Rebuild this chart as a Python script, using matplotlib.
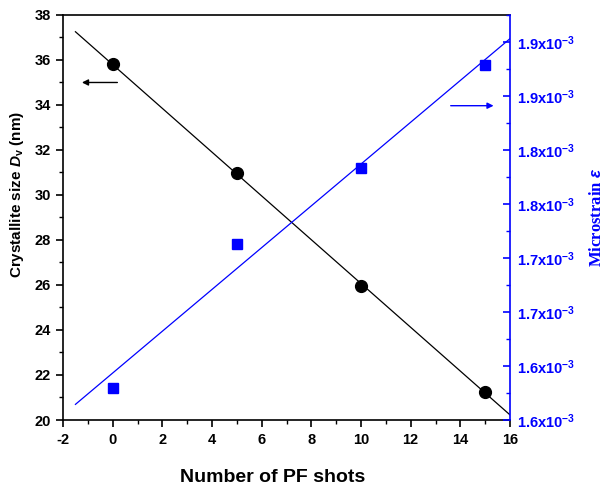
"""
Tamano de cristalito y microdeformacion en funcion del numero de disparos PF
"""
import numpy as np
import matplotlib
matplotlib.use("Agg")
import matplotlib.pyplot as plt
from matplotlib.ticker import MultipleLocator, FuncFormatter

# datos
shots = [0, 5, 10, 15]
crystallite_size = [35.8, 30.97, 25.97, 21.25]  # nm
microstrain = [1.610e-3, 1.7425e-3, 1.813e-3, 1.909e-3]

BLUE = "#0000ff"

plt.rcParams["font.family"] = ["Liberation Sans", "DejaVu Sans"]
plt.rcParams["font.weight"] = "bold"
plt.rcParams["axes.unicode_minus"] = False
plt.rcParams["mathtext.fontset"] = "custom"
plt.rcParams["mathtext.rm"] = "Liberation Sans:bold"
plt.rcParams["mathtext.it"] = "Liberation Sans:bold:italic"
plt.rcParams["mathtext.bf"] = "Liberation Sans:bold"


def ajuste_lineal(x, y, x_min=-1.5, x_max=16):
    """ajuste lineal por minimos cuadrados, evaluado en el rango dado"""
    coef = np.polyfit(x, y, 1)
    xs = np.array([x_min, x_max])
    return xs, np.polyval(coef, xs)


fig = plt.figure(figsize=(6.06, 4.91), dpi=100)
ax = fig.add_axes([0.104, 0.1446, 0.7376, 0.8249])
ax2 = ax.twinx()

# eje izquierdo: tamano de cristalito
xs, ys = ajuste_lineal(shots, crystallite_size)
ax.plot(xs, ys, color="black", lw=0.9)
ax.plot(shots, crystallite_size, "o", color="black", ms=8.5, ls="none")

# eje derecho: microdeformacion
xs, ys = ajuste_lineal(shots, microstrain)
ax2.plot(xs, ys, color=BLUE, lw=0.9)
ax2.plot(shots, microstrain, "s", color=BLUE, ms=7.5, ls="none")

ax.set_xlim(-2, 16)
ax.set_ylim(20, 38)
ax2.set_ylim(1.58e-3, 1.955e-3)

ax.xaxis.set_major_locator(MultipleLocator(2))
ax.xaxis.set_minor_locator(MultipleLocator(1))
ax.yaxis.set_major_locator(MultipleLocator(2))
ax.yaxis.set_minor_locator(MultipleLocator(1))
ax2.set_yticks(np.arange(1.58e-3, 1.94e-3, 0.05e-3))
ax2.set_yticks(np.arange(1.605e-3, 1.96e-3, 0.05e-3), minor=True)
ax2.yaxis.set_major_formatter(
    FuncFormatter(lambda v, _: f"{v * 1e3:.1f}x10$^{{-3}}$")
)

ax.tick_params(which="major", direction="out", length=5, width=1.2,
               labelsize=10.5, top=False)
ax.tick_params(which="minor", direction="out", length=3, width=1.0, top=False)
ax.tick_params(axis="x", pad=4)
ax2.tick_params(which="major", direction="in", length=5, width=1.2,
                colors=BLUE, labelsize=10.5, pad=5)
ax2.tick_params(which="minor", direction="in", length=3, width=1.0, colors=BLUE)

for spine in ["left", "bottom", "top"]:
    ax.spines[spine].set_linewidth(1.2)
for spine in ["left", "bottom", "top"]:
    ax2.spines[spine].set_visible(False)
ax2.spines["right"].set_color(BLUE)
ax2.spines["right"].set_linewidth(1.2)
ax.spines["right"].set_visible(False)

for lbl in ax.get_xticklabels() + ax.get_yticklabels() + ax2.get_yticklabels():
    lbl.set_fontweight("bold")

ax.set_xlabel("Number of PF shots", fontsize=14, fontweight="bold")
ax.xaxis.set_label_coords(0.47, -0.12)
ax.set_ylabel("Crystallite size $\\mathit{D}_{\\mathrm{v}}$ (nm)",
              fontsize=11, fontweight="bold")
ax.yaxis.set_label_coords(-0.083, 0.556)
ax2.set_ylabel("Microstrain $\\mathit{\\varepsilon}$", fontsize=12,
               fontweight="bold", color=BLUE, family="Liberation Serif")
ax2.yaxis.set_label_coords(1.176, 0.5)

# flechas que indican el eje de cada serie
ax.annotate("", xy=(-1.35, 35.0), xytext=(0.3, 35.0),
            arrowprops=dict(arrowstyle="-|>", color="black", lw=1.0,
                            mutation_scale=9))
ax2.annotate("", xy=(15.45, 1.871e-3), xytext=(13.5, 1.871e-3),
             arrowprops=dict(arrowstyle="-|>", color=BLUE, lw=1.0,
                             mutation_scale=9))

fig.savefig("out.png", dpi=100)
